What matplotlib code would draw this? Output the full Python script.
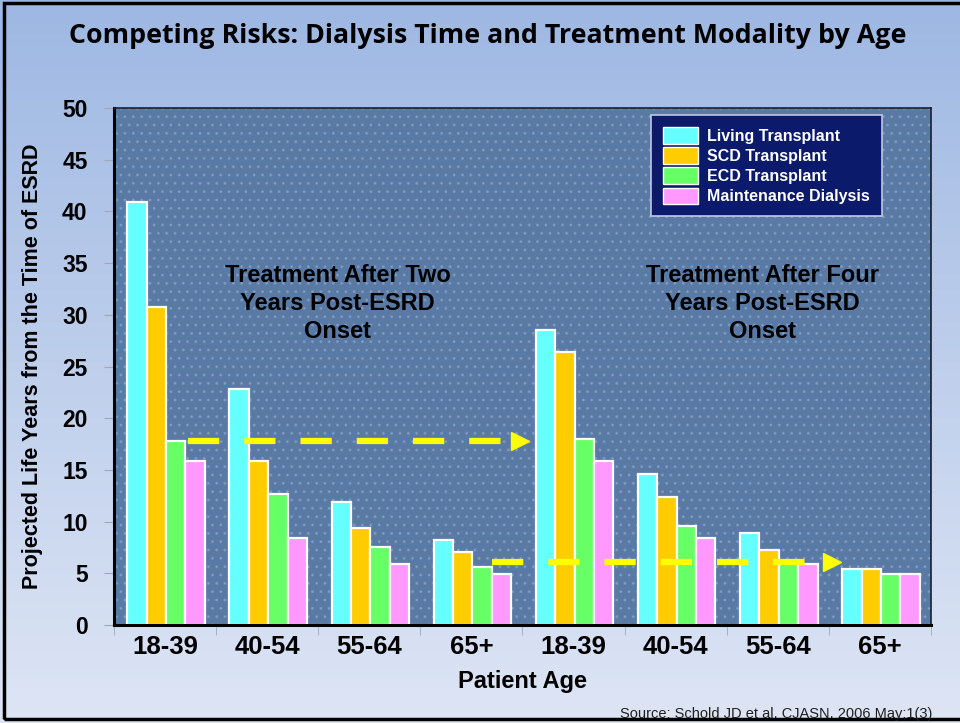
import numpy as np
import matplotlib
matplotlib.use("Agg")
import matplotlib.pyplot as plt
from matplotlib.patches import Rectangle, Patch

# Projected life years by age group, for treatment at 2 and 4 years post-ESRD onset
age_groups = ["18-39", "40-54", "55-64", "65+", "18-39", "40-54", "55-64", "65+"]
series_names = ["Living Transplant", "SCD Transplant", "ECD Transplant", "Maintenance Dialysis"]
living = [40.9, 22.8, 11.9, 8.2, 28.5, 14.6, 8.9, 5.4]
scd = [30.8, 15.9, 9.4, 7.1, 26.4, 12.4, 7.3, 5.4]
ecd = [17.8, 12.7, 7.5, 5.6, 18.0, 9.6, 6.1, 4.9]
dialysis = [15.9, 8.4, 5.9, 4.9, 15.9, 8.4, 5.9, 4.9]
yticks = [0, 5, 10, 15, 20, 25, 30, 35, 40, 45, 50]

colors = ["#66ffff", "#ffcc00", "#66ff66", "#ff99ff"]

fig = plt.figure(figsize=(9.6, 7.23), dpi=100)

# gradient slide background
bg = fig.add_axes([0, 0, 1, 1], zorder=-10)
grad = np.linspace(0, 1, 256).reshape(-1, 1)
top = np.array([0.62, 0.72, 0.89])
bot = np.array([0.87, 0.90, 0.96])
img = top[None, None, :] * (1 - grad[:, :, None]) + bot[None, None, :] * grad[:, :, None]
bg.imshow(img, aspect="auto", extent=[0, 1, 0, 1])
bg.set_xlim(0, 1)
bg.set_ylim(0, 1)
bg.axis("off")
bg.add_patch(Rectangle((0.004, 0.006), 1.2, 0.99, fill=False, edgecolor="black", lw=2.5,
                       transform=bg.transAxes))

ax = fig.add_axes([0.11875, 0.1355, 0.851, 0.715])
ax.set_facecolor("#5a7aa6")
ax.add_patch(Rectangle((0, 0), 1, 1, transform=ax.transAxes, facecolor="none",
                       hatch="..", edgecolor=(0.75, 0.82, 0.92, 0.25), lw=0, zorder=0))

x = np.arange(len(age_groups))
width = 0.19
for i, (vals, c, name) in enumerate(zip([living, scd, ecd, dialysis], colors, series_names)):
    ax.bar(x + (i - 1.5) * width + 0.01, vals, width, color=c, edgecolor="white",
           linewidth=1.6, label=name, zorder=2)

# dashed arrows linking equivalent life expectancy across panels
ax.plot([0.22, 3.45], [17.8, 17.8], color="#ffff00", lw=4.5, dashes=(5, 4), zorder=3)
ax.plot([3.48], [17.8], marker=">", color="#ffff00", markersize=13, zorder=3, ls="none")
ax.plot([3.2, 6.45], [6.1, 6.1], color="#ffff00", lw=4.5, dashes=(5, 4), zorder=3)
ax.plot([6.53], [6.1], marker=">", color="#ffff00", markersize=13, zorder=3, ls="none")

ax.set_xlim(-0.5, 7.5)
ax.set_ylim(0, 50)
ax.set_yticks(yticks)
ax.set_yticklabels([str(v) for v in yticks], fontsize=16.5, fontweight="bold",
                   family="Liberation Sans")
ax.set_xticks(x)
ax.set_xticklabels(age_groups, fontsize=18.5, fontweight="bold", family="Liberation Sans")
ax.set_xticks(np.arange(-0.5, 8.0, 1.0), minor=True)
ax.tick_params(axis="x", which="major", length=0, pad=7)
ax.tick_params(axis="x", which="minor", length=7, color="#a0a8b8", direction="out")
ax.tick_params(axis="y", length=7, color="#a0a8b8", direction="out", pad=12)

for side in ["left", "bottom"]:
    ax.spines[side].set_linewidth(2.2)
    ax.spines[side].set_color("black")
for side in ["top", "right"]:
    ax.spines[side].set_linewidth(1.2)
    ax.spines[side].set_color("#1a2030")

ax.set_ylabel("Projected Life Years from the Time of ESRD", fontsize=15.5,
              fontweight="bold", family="Liberation Sans", labelpad=14)
ax.set_xlabel("Patient Age", fontsize=17, fontweight="bold", family="Liberation Sans",
              labelpad=8)

ax.text(1.69, 31.1, "Treatment After Two\nYears Post-ESRD\nOnset", ha="center", va="center",
        fontsize=17, fontweight="bold", family="Liberation Sans", linespacing=1.3,
        color="black")
ax.text(5.85, 31.1, "Treatment After Four\nYears Post-ESRD\nOnset", ha="center", va="center",
        fontsize=17, fontweight="bold", family="Liberation Sans", linespacing=1.3,
        color="black")

handles = [Patch(facecolor=c, edgecolor="white", linewidth=1.0) for c in colors]
leg = ax.legend(handles, series_names, loc="upper right", bbox_to_anchor=(0.94, 0.986),
                borderaxespad=0, frameon=True, fancybox=False, facecolor="#0c1a6b",
                edgecolor="#c0c8e0", framealpha=1.0,
                prop={"family": "Liberation Sans", "weight": "bold", "size": 11.5},
                handlelength=2.2, handleheight=1.25, labelspacing=0.2, borderpad=0.75,
                handletextpad=0.55)
for t in leg.get_texts():
    t.set_color("white")
leg.get_frame().set_linewidth(1.2)

fig.text(0.508, 0.95, "Competing Risks: Dialysis Time and Treatment Modality by Age",
         ha="center", va="center", fontsize=19.3, fontweight="bold",
         family=["Liberation Sans Narrow", "Open Sans", "DejaVu Sans"], color="black")

fig.text(0.646, 0.013, "Source: Schold JD et al. CJASN. 2006 May;1(3)", ha="left",
         va="center", fontsize=10.5, family="Liberation Sans", color="#202020")

fig.savefig("out.png", dpi=100)
